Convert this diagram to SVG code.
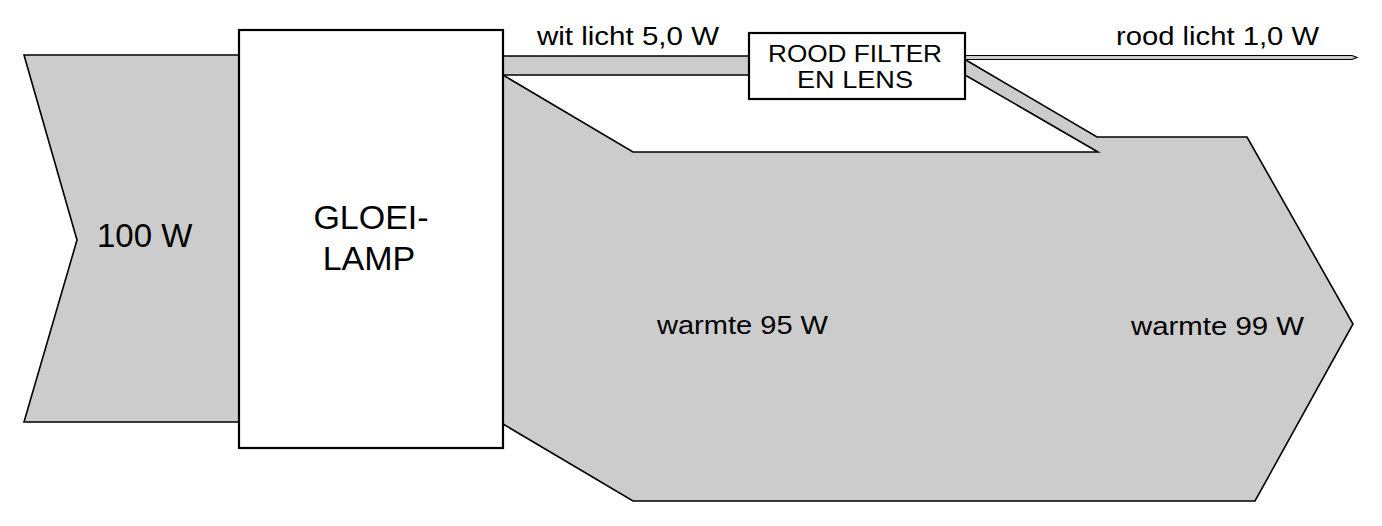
<svg xmlns="http://www.w3.org/2000/svg" width="1382" height="526" viewBox="0 0 1382 526">
<style>
.flow{fill:#cccccc;stroke:#000;stroke-width:1.6;stroke-linejoin:miter}
.edge{fill:none;stroke:#000;stroke-width:1.6;stroke-linejoin:miter}
.box{fill:#fff;stroke:#000;stroke-width:2.2}
.lbl{font-family:"Liberation Sans",Arial,Helvetica,sans-serif;fill:#000}
.big{font-size:34px}
.sm{font-size:26px}
.fl{font-size:24px}
</style>
<rect width="1382" height="526" fill="#fff"/>
<g id="connectors">
  <g id="flow-in">
    <polygon points="24,55 239,55 239,422 24,422 77,240" fill="#cccccc" stroke="none"/>
    <polyline class="edge" points="239,55 24,55 77,240 24,422 239,422"/>
  </g>
  <g id="flow-heat">
    <path class="flow" d="M503,75 L633,152 L1098,152 L965,75 L965,59.5 L1097,137 L1247,137 L1353,324 L1255,501 L633,501 L503,424 Z"/>
  </g>
  <g id="flow-white">
    <rect x="503" y="56" width="246" height="19" fill="#cccccc" stroke="none"/>
    <line class="edge" x1="503" y1="56" x2="749" y2="56"/>
    <line class="edge" x1="503" y1="75" x2="749" y2="75"/>
  </g>
  <g id="flow-red">
    <polygon points="965,55.5 1352,55.5 1357,57.5 1352,59.5 965,59.5" fill="#cccccc" stroke="#000" stroke-width="1.2"/>
  </g>
</g>
<g id="node-lamp">
  <rect class="box" x="239" y="30" width="264" height="418"/>
  <text class="lbl big" x="371" y="229" text-anchor="middle">GLOEI-</text>
  <text class="lbl big" x="369" y="270" text-anchor="middle">LAMP</text>
</g>
<g id="node-filter">
  <rect class="box" x="749" y="33" width="216" height="66"/>
  <text class="lbl fl" x="768" y="62" textLength="174" lengthAdjust="spacingAndGlyphs">ROOD FILTER</text>
  <text class="lbl fl" x="797" y="88" textLength="116" lengthAdjust="spacingAndGlyphs">EN LENS</text>
</g>
<g id="labels">
  <text class="lbl" x="97" y="247" font-size="33">100 W</text>
  <text class="lbl sm" x="537" y="45" textLength="182" lengthAdjust="spacingAndGlyphs">wit licht 5,0 W</text>
  <text class="lbl sm" x="1116" y="45" textLength="203" lengthAdjust="spacingAndGlyphs">rood licht 1,0 W</text>
  <text class="lbl sm" x="657" y="334" textLength="171" lengthAdjust="spacingAndGlyphs">warmte 95 W</text>
  <text class="lbl sm" x="1131" y="335" textLength="173" lengthAdjust="spacingAndGlyphs">warmte 99 W</text>
</g>
</svg>
